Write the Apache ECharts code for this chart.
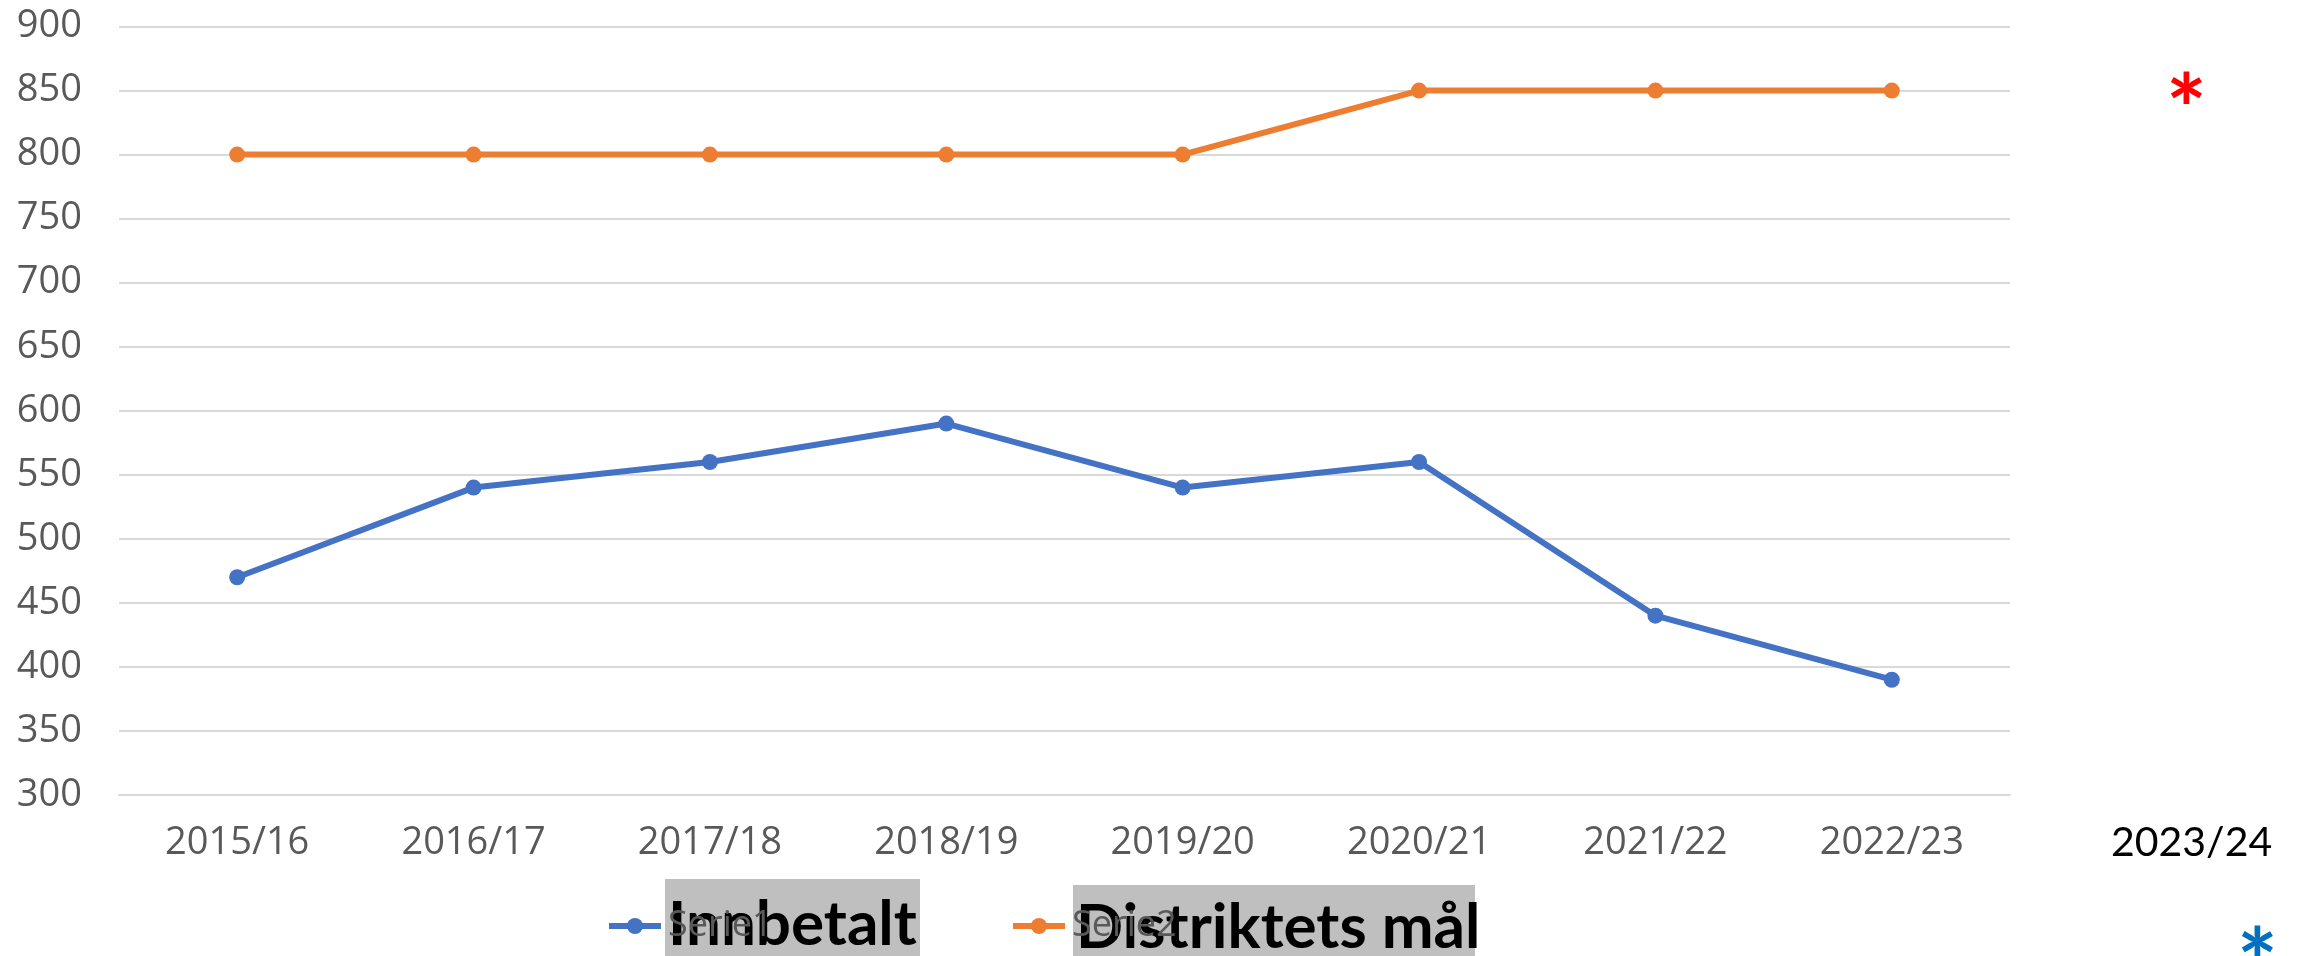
<!DOCTYPE html>
<html>
<head>
<meta charset="utf-8">
<script src="https://cdn.jsdelivr.net/npm/echarts@6/dist/echarts.min.js"></script>
<style>
  html, body { margin: 0; padding: 0; background: #fff; }
  #chart { width: 2302px; height: 956px; }
</style>
</head>
<body>
<div id="chart"></div>
<script>
// sesonger langs x-aksen
const seasons = ['2015/16', '2016/17', '2017/18', '2018/19', '2019/20', '2020/21', '2021/22', '2022/23']
// Serie1 = innbetalt, Serie2 = distriktets mål
const serie1 = [470, 540, 560, 590, 540, 560, 440, 390]
const serie2 = [800, 800, 800, 800, 800, 850, 850, 850]
const yTicks = { min: 300, max: 900, step: 50 }

const labelFont = '"Open Sans", sans-serif'
const boxFont = 'Lato, "Open Sans", sans-serif'

const chart = echarts.init(document.getElementById('chart'))

function legendFor(name, left) {
  return {
    data: [name],
    left: left,
    top: 908,
    itemWidth: 52,
    itemHeight: 20,
    itemGap: 0,
    padding: 0,
    lineStyle: { width: 6 },
    textStyle: { color: '#595959', fontSize: 36, fontFamily: labelFont, padding: [0, 0, 0, 2] }
  }
}

chart.setOption({
  animation: false,
  backgroundColor: '#fff',
  grid: { left: 119, right: 292, top: 26.5, bottom: 161 },
  legend: [legendFor('Serie1', 606), legendFor('Serie2', 1010)],
  xAxis: {
    type: 'category',
    data: seasons,
    boundaryGap: true,
    axisLine: { lineStyle: { color: '#d9d9d9', width: 2 } },
    axisTick: { show: false },
    axisLabel: { color: '#595959', fontSize: 38, fontFamily: labelFont, margin: 29 }
  },
  yAxis: {
    type: 'value',
    min: yTicks.min,
    max: yTicks.max,
    interval: yTicks.step,
    axisLine: { show: false },
    axisTick: { show: false },
    axisLabel: { color: '#595959', fontSize: 38, fontFamily: labelFont, margin: 37 },
    splitLine: { lineStyle: { color: '#d9d9d9', width: 2 } }
  },
  series: [
    {
      name: 'Serie1',
      type: 'line',
      data: serie1,
      symbol: 'circle',
      symbolSize: 16,
      color: '#4472C4',
      lineStyle: { width: 6 }
    },
    {
      name: 'Serie2',
      type: 'line',
      data: serie2,
      symbol: 'circle',
      symbolSize: 16,
      color: '#ED7D31',
      lineStyle: { width: 6 }
    }
  ],
  graphic: [
    // grå bokser under forklaringsteksten
    { type: 'rect', z: 1, shape: { x: 665, y: 879, width: 255, height: 80 }, style: { fill: '#BFBFBF' } },
    { type: 'rect', z: 1, shape: { x: 1073, y: 885, width: 402, height: 75 }, style: { fill: '#BFBFBF' } },
    {
      type: 'text', z: 2, left: 668, top: 894,
      style: { text: 'Innbetalt', fill: '#000', font: 'bold 62px ' + boxFont }
    },
    {
      type: 'text', z: 2, left: 1076, top: 897,
      style: { text: 'Distriktets mål', fill: '#000', font: 'bold 62px ' + boxFont }
    },
    {
      type: 'text', left: 2111, top: 822,
      style: { text: '2023/24', fill: '#000', font: '41px ' + boxFont }
    },
    {
      type: 'text', left: 2166, top: 65,
      style: { text: '*', fill: '#FF0000', font: 'bold 96px ' + boxFont }
    },
    {
      type: 'text', left: 2237, top: 919,
      style: { text: '*', fill: '#0070C0', font: 'bold 96px ' + boxFont }
    }
  ]
})
</script>
</body>
</html>
